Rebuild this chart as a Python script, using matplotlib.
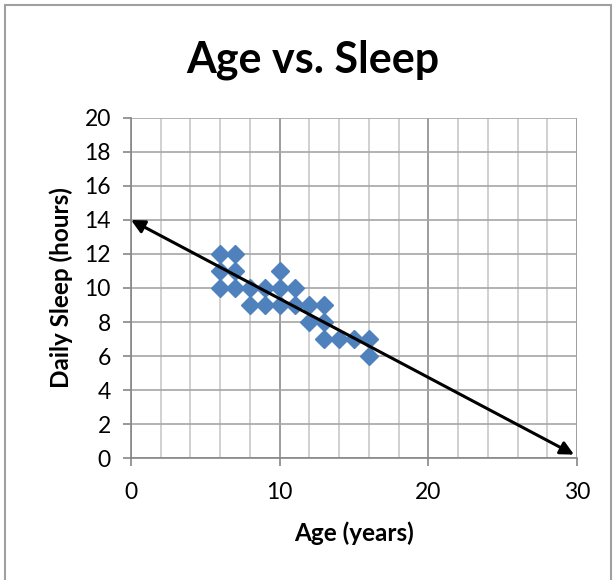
import matplotlib.pyplot as plt
from matplotlib.patches import Rectangle
from matplotlib.ticker import MultipleLocator

# age (years) and daily sleep (hours) for each child
ages = [6, 7, 6, 7, 6, 7, 8, 9, 10, 10, 11, 8, 9, 10, 11, 12, 13, 12, 13, 13, 14, 15, 16, 16]
sleep = [12, 12, 11, 11, 10, 10, 10, 10, 11, 10, 10, 9, 9, 9, 9, 9, 9, 8, 8, 7, 7, 7, 7, 6]

# hand drawn trend arrow (start and end)
trend_x = [0, 29.8]
trend_y = [14, 0.2]

x_ticks = [0, 10, 20, 30]
y_ticks = list(range(0, 21, 2))

plt.rcParams['font.family'] = ['Lato', 'DejaVu Sans']

fig = plt.figure(figsize=(6.16, 5.8), dpi=100)
ax = fig.add_axes([0.2127, 0.2103, 0.7240, 0.5863])

# outer chart border
fig.patches.append(Rectangle((5 / 616, -0.1), 606 / 616, 1.1 - 5 / 580,
                             transform=fig.transFigure, fill=False,
                             edgecolor='#a0a0a0', lw=1.5))

ax.set_xlim(0, 30)
ax.set_ylim(0, 20)
ax.set_xticks(x_ticks)
ax.set_yticks(y_ticks)
ax.xaxis.set_minor_locator(MultipleLocator(2))

ax.grid(which='minor', axis='x', color='#c8c8c8', lw=1.2)
ax.grid(which='major', axis='x', color='#8c8c8c', lw=1.2)
ax.grid(which='major', axis='y', color='#a6a6a6', lw=1.2)
ax.set_axisbelow(True)

for s in ['left', 'bottom']:
    ax.spines[s].set_color('#868686')
    ax.spines[s].set_linewidth(1.2)
for s in ['top', 'right']:
    ax.spines[s].set_visible(False)

ax.tick_params(which='major', length=5.5, width=1.2, color='#868686', labelsize=16.5)
ax.tick_params(which='minor', length=0)
ax.tick_params(axis='x', pad=12)
ax.tick_params(axis='y', pad=9)

ax.plot(ages, sleep, linestyle='none', marker='D', ms=9.5, color='#4f81bd', zorder=3)

ax.annotate('', xy=(trend_x[1], trend_y[1]), xytext=(trend_x[0], trend_y[0]),
            arrowprops=dict(arrowstyle='<|-|>', color='black', lw=2.2,
                            mutation_scale=20, shrinkA=0, shrinkB=0),
            annotation_clip=False, zorder=4)

fig.text(0.508, 0.897, 'Age vs. Sleep', ha='center', va='center',
         fontsize=31, fontweight='bold')
ax.set_xlabel('Age (years)', fontsize=17.5, fontweight='bold', labelpad=13)
ax.set_ylabel('Daily Sleep (hours)', fontsize=17.5, fontweight='bold', labelpad=8)

fig.savefig('out.png', dpi=100)
